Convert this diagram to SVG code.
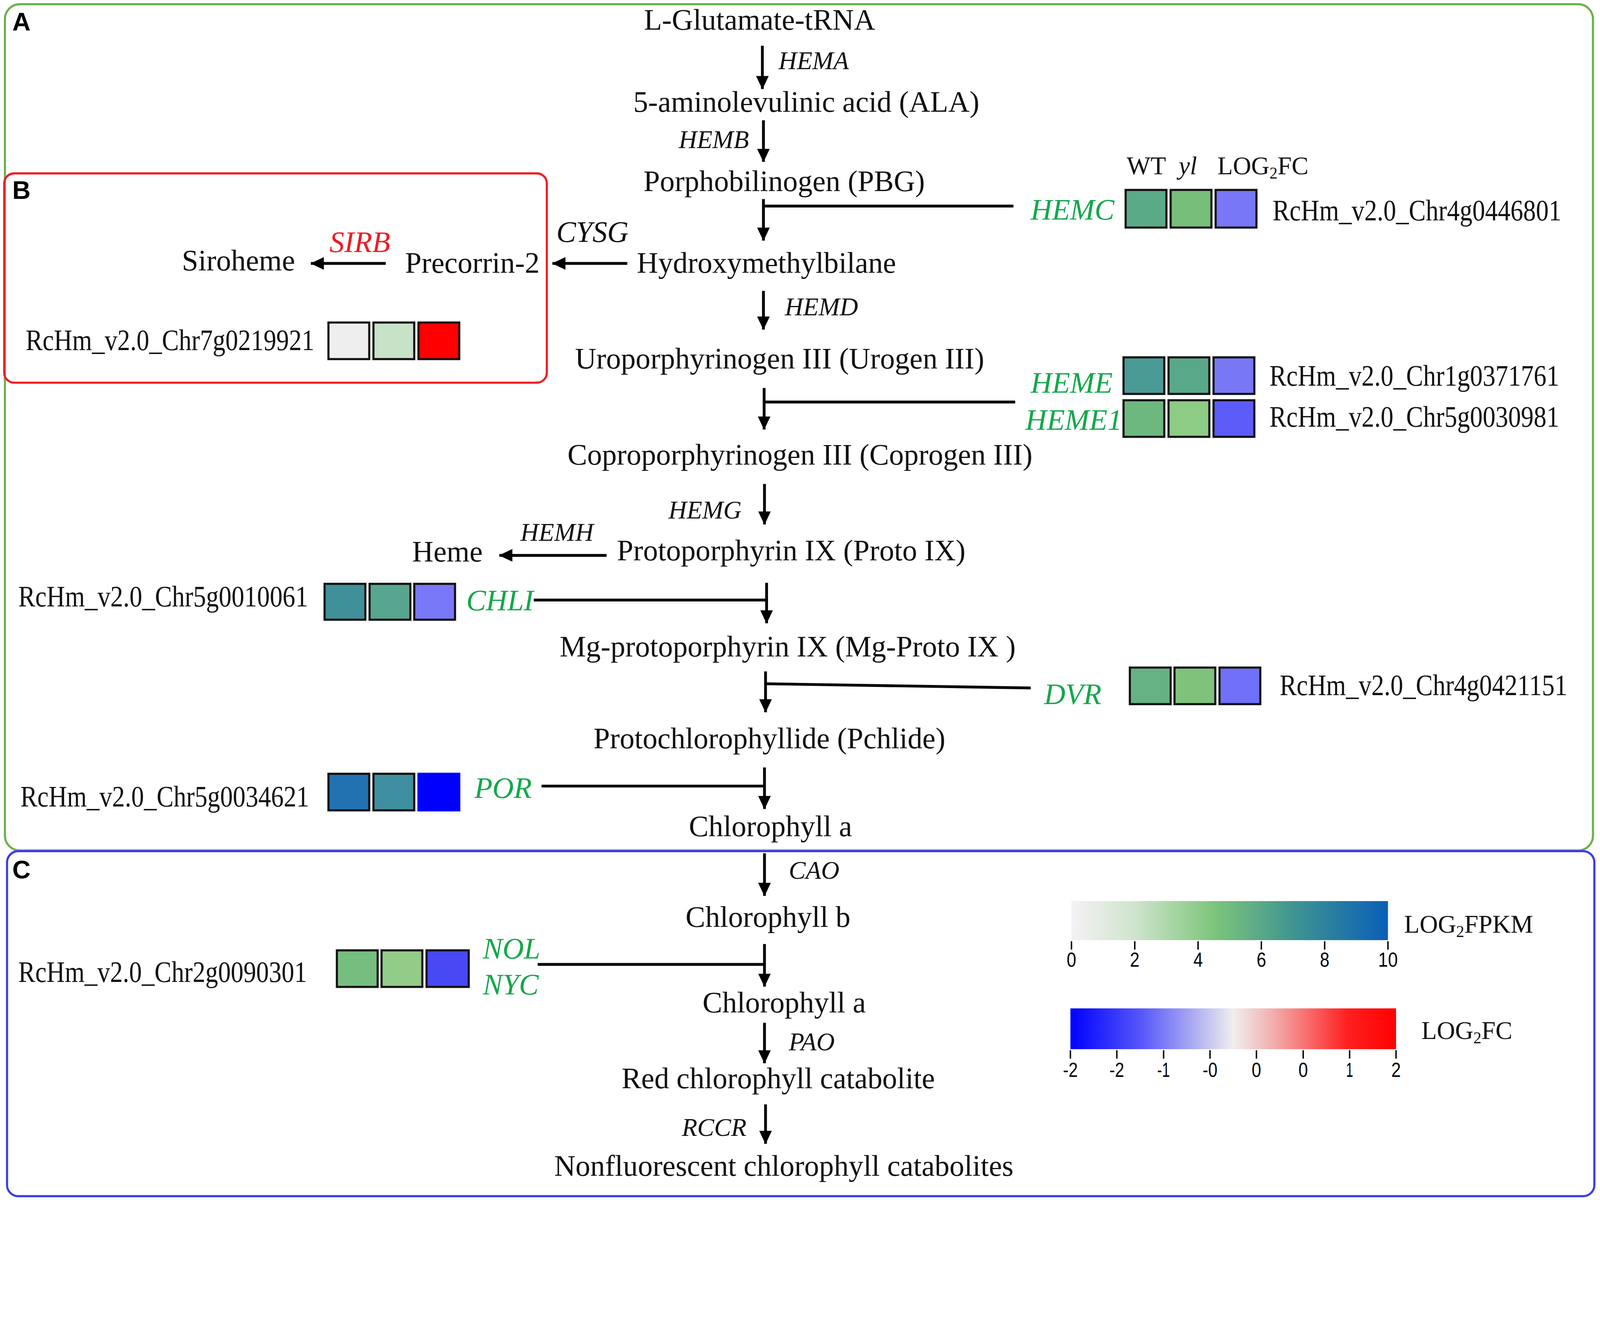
<svg xmlns="http://www.w3.org/2000/svg" width="4550" height="3414" viewBox="0 0 4550 3414">
<style>
@media (max-width: 4549px) { svg:root { width: 100vw; height: calc(100vw * 0.750330); } }
.t{font-family:"Liberation Serif","Times New Roman",serif;font-size:84px;fill:#111}
.m{text-anchor:middle}
.i{font-family:"Liberation Serif","Times New Roman",serif;font-style:italic;font-size:72px;fill:#111}
.g{font-family:"Liberation Serif","Times New Roman",serif;font-style:italic;font-size:84px;fill:#13a84a}
.id{font-family:"Liberation Serif","Times New Roman",serif;font-size:84px;fill:#111}
.h{font-family:"Liberation Serif","Times New Roman",serif;font-size:72px;fill:#111}
.p{font-family:"Liberation Sans",Arial,sans-serif;font-weight:bold;font-size:72px;fill:#000}
.k{font-family:"Liberation Sans",Arial,sans-serif;font-size:58px;fill:#000;text-anchor:middle}
.ln{stroke:#000;stroke-width:8;fill:none}
.ar{stroke:#000;stroke-width:8;fill:none;marker-end:url(#ah)}
.sq{stroke:#111;stroke-width:6}
.tk{stroke:#000;stroke-width:4}
</style>
<defs>
<marker id="ah" markerUnits="userSpaceOnUse" markerWidth="38" markerHeight="36" refX="37" refY="18" orient="auto">
<path d="M0,0 L38,18 L0,36 Z" fill="#000"/>
</marker>
<linearGradient id="gf" x1="0" y1="0" x2="1" y2="0">
<stop offset="0" stop-color="#f4f2f4"/>
<stop offset="0.2" stop-color="#cfe4cc"/>
<stop offset="0.45" stop-color="#7dc57b"/>
<stop offset="0.7" stop-color="#3f9590"/>
<stop offset="1" stop-color="#0a5fb8"/>
</linearGradient>
<linearGradient id="gc" x1="0" y1="0" x2="1" y2="0">
<stop offset="0" stop-color="#0000ff"/>
<stop offset="0.22" stop-color="#5858fa"/>
<stop offset="0.4" stop-color="#b8b8f0"/>
<stop offset="0.5" stop-color="#f0eeee"/>
<stop offset="0.62" stop-color="#f2b0b0"/>
<stop offset="0.85" stop-color="#ff2020"/>
<stop offset="1" stop-color="#ff0000"/>
</linearGradient>
</defs>
<rect width="4550" height="3414" fill="#fff"/>

<g id="frames">
<rect x="14" y="12" width="4516" height="2406" rx="42" fill="none" stroke="#6cb04c" stroke-width="6"/>
<rect x="20" y="2420" width="4514" height="981" rx="32" fill="none" stroke="#3b3bea" stroke-width="6"/>
<rect x="12" y="493" width="1543" height="595" rx="28" fill="none" stroke="#ee1c24" stroke-width="6"/>
<text class="p" x="35" y="87">A</text>
<text class="p" x="35" y="566">B</text>
<text class="p" x="35" y="2497">C</text>
</g>

<g id="connectors">
<path class="ar" d="M2168,130 V253"/>
<path class="ar" d="M2171,342 V460"/>
<path class="ar" d="M2171,566 V684"/>
<path class="ln" d="M2171,586 H2882"/>
<path class="ar" d="M1784,749 H1571"/>
<path class="ar" d="M1097,749 H884"/>
<path class="ar" d="M2171,827 V937"/>
<path class="ar" d="M2173,1103 V1221"/>
<path class="ln" d="M2173,1143 H2887"/>
<path class="ar" d="M2174,1376 V1491"/>
<path class="ar" d="M1725,1579 H1420"/>
<path class="ar" d="M2180,1657 V1772"/>
<path class="ln" d="M1518,1706 H2180"/>
<path class="ar" d="M2177,1909 V2025"/>
<path class="ln" d="M2177,1944 L2931,1956"/>
<path class="ar" d="M2174,2182 V2300"/>
<path class="ln" d="M1540,2235 H2174"/>
<path class="ar" d="M2174,2426 V2547"/>
<path class="ar" d="M2174,2684 V2805"/>
<path class="ln" d="M1529,2742 H2174"/>
<path class="ar" d="M2174,2908 V3023"/>
<path class="ar" d="M2177,3140 V3252"/>
</g>

<g id="metabolites">
<text class="t m" x="2160" y="84">L-Glutamate-tRNA</text>
<text class="t m" x="2293" y="318">5-aminolevulinic acid (ALA)</text>
<text class="t m" x="2230" y="543">Porphobilinogen (PBG)</text>
<text class="t" x="1811" y="775">Hydroxymethylbilane</text>
<text class="t" x="1152" y="775">Precorrin-2</text>
<text class="t" x="517" y="769">Siroheme</text>
<text class="t m" x="2217" y="1048">Uroporphyrinogen III (Urogen III)</text>
<text class="t m" x="2275" y="1321">Coproporphyrinogen III (Coprogen III)</text>
<text class="t m" x="2250" y="1593">Protoporphyrin IX (Proto IX)</text>
<text class="t" x="1172" y="1596">Heme</text>
<text class="t m" x="2240" y="1866">Mg-protoporphyrin IX (Mg-Proto IX )</text>
<text class="t m" x="2188" y="2127">Protochlorophyllide (Pchlide)</text>
<text class="t m" x="2191" y="2377">Chlorophyll a</text>
<text class="t m" x="2184" y="2635">Chlorophyll b</text>
<text class="t m" x="2230" y="2879">Chlorophyll a</text>
<text class="t m" x="2213" y="3094">Red chlorophyll catabolite</text>
<text class="t m" x="2229" y="3343">Nonfluorescent chlorophyll catabolites</text>
</g>

<g id="enzymes">
<text class="i" x="2214" y="197">HEMA</text>
<text class="i" x="1930" y="421">HEMB</text>
<text class="i" x="1582" y="688" style="font-size:84px">CYSG</text>
<text class="i" x="937" y="717" style="font-size:84px;fill:#ee1c24">SIRB</text>
<text class="i" x="2232" y="897">HEMD</text>
<text class="i" x="1901" y="1474">HEMG</text>
<text class="i" x="1480" y="1538">HEMH</text>
<text class="i" x="2243" y="2499">CAO</text>
<text class="i" x="2243" y="2986">PAO</text>
<text class="i" x="1939" y="3230">RCCR</text>
</g>

<g id="header">
<text class="h" x="3204" y="496">WT</text>
<text class="h" x="3352" y="496" font-style="italic">yl</text>
<text class="h" x="3462" y="496">LOG<tspan font-size="46" dy="12">2</tspan><tspan dy="-12">FC</tspan></text>
</g>

<g id="gene-HEMC">
<text class="g" x="2931" y="624">HEMC</text>
<rect class="sq" x="3201" y="540" width="116" height="107" fill="#5aaa87"/>
<rect class="sq" x="3329" y="540" width="116" height="107" fill="#76be7a"/>
<rect class="sq" x="3457" y="540" width="116" height="107" fill="#7777f7"/>
<text class="id" x="3619" y="627" textLength="821" lengthAdjust="spacingAndGlyphs">RcHm_v2.0_Chr4g0446801</text>
</g>

<g id="gene-SIRB">
<rect class="sq" x="934" y="917" width="116" height="104" fill="#eeeeee"/>
<rect class="sq" x="1062" y="917" width="116" height="104" fill="#c8e2c8"/>
<rect class="sq" x="1190" y="917" width="116" height="104" fill="#ff0000"/>
<text class="id" x="73" y="995" textLength="821" lengthAdjust="spacingAndGlyphs">RcHm_v2.0_Chr7g0219921</text>
</g>

<g id="gene-HEME">
<text class="g" x="2931" y="1117">HEME</text>
<rect class="sq" x="3195" y="1016" width="116" height="104" fill="#4a9a96"/>
<rect class="sq" x="3323" y="1016" width="116" height="104" fill="#5aa88a"/>
<rect class="sq" x="3451" y="1016" width="116" height="104" fill="#7878f5"/>
<text class="id" x="3610" y="1097" textLength="824" lengthAdjust="spacingAndGlyphs">RcHm_v2.0_Chr1g0371761</text>
</g>

<g id="gene-HEME1">
<text class="g" x="2916" y="1222">HEME1</text>
<rect class="sq" x="3195" y="1138" width="116" height="104" fill="#6cb87f"/>
<rect class="sq" x="3323" y="1138" width="116" height="104" fill="#8ccc84"/>
<rect class="sq" x="3451" y="1138" width="116" height="104" fill="#5c5cf8"/>
<text class="id" x="3610" y="1213" textLength="824" lengthAdjust="spacingAndGlyphs">RcHm_v2.0_Chr5g0030981</text>
</g>

<g id="gene-CHLI">
<text class="g" x="1326" y="1735">CHLI</text>
<rect class="sq" x="923" y="1660" width="116" height="102" fill="#3f9099"/>
<rect class="sq" x="1051" y="1660" width="116" height="102" fill="#58a68f"/>
<rect class="sq" x="1178" y="1660" width="116" height="102" fill="#7878f8"/>
<text class="id" x="52" y="1724" textLength="824" lengthAdjust="spacingAndGlyphs">RcHm_v2.0_Chr5g0010061</text>
</g>

<g id="gene-DVR">
<text class="g" x="2969" y="2002">DVR</text>
<rect class="sq" x="3213" y="1898" width="116" height="104" fill="#66b285"/>
<rect class="sq" x="3340" y="1898" width="116" height="104" fill="#80c27c"/>
<rect class="sq" x="3468" y="1898" width="116" height="104" fill="#7070f8"/>
<text class="id" x="3639" y="1976" textLength="818" lengthAdjust="spacingAndGlyphs">RcHm_v2.0_Chr4g0421151</text>
</g>

<g id="gene-POR">
<text class="g" x="1349" y="2269">POR</text>
<rect class="sq" x="934" y="2200" width="116" height="104" fill="#2272b2"/>
<rect class="sq" x="1062" y="2200" width="116" height="104" fill="#3f8fa0"/>
<rect x="1187" y="2197" width="122" height="110" fill="#0000ff"/>
<text class="id" x="58" y="2293" textLength="821" lengthAdjust="spacingAndGlyphs">RcHm_v2.0_Chr5g0034621</text>
</g>

<g id="gene-NOL">
<text class="g" x="1373" y="2725">NOL</text>
<text class="g" x="1373" y="2827">NYC</text>
<rect class="sq" x="958" y="2702" width="116" height="104" fill="#76bd80"/>
<rect class="sq" x="1085" y="2702" width="116" height="104" fill="#92cc88"/>
<rect class="sq" x="1213" y="2702" width="120" height="104" fill="#4848f4"/>
<text class="id" x="52" y="2792" textLength="821" lengthAdjust="spacingAndGlyphs">RcHm_v2.0_Chr2g0090301</text>
</g>

<g id="legend-fpkm">
<rect x="3047" y="2562" width="900" height="111" fill="url(#gf)"/>
<path class="tk" d="M3047,2676 v24 M3227,2676 v24 M3407,2676 v24 M3587,2676 v24 M3767,2676 v24 M3947,2676 v24"/>
<text class="k" x="3047" y="2749" textLength="27" lengthAdjust="spacingAndGlyphs">0</text>
<text class="k" x="3227" y="2749" textLength="27" lengthAdjust="spacingAndGlyphs">2</text>
<text class="k" x="3407" y="2749" textLength="27" lengthAdjust="spacingAndGlyphs">4</text>
<text class="k" x="3587" y="2749" textLength="27" lengthAdjust="spacingAndGlyphs">6</text>
<text class="k" x="3767" y="2749" textLength="27" lengthAdjust="spacingAndGlyphs">8</text>
<text class="k" x="3947" y="2749" textLength="56" lengthAdjust="spacingAndGlyphs">10</text>
<text class="h" x="3993" y="2652">LOG<tspan font-size="46" dy="12">2</tspan><tspan dy="-12">FPKM</tspan></text>
</g>

<g id="legend-fc">
<rect x="3044" y="2867" width="926" height="116" fill="url(#gc)"/>
<path class="tk" d="M3044,2986 v24 M3176,2986 v24 M3309,2986 v24 M3441,2986 v24 M3573,2986 v24 M3706,2986 v24 M3838,2986 v24 M3970,2986 v24"/>
<text class="k" x="3044" y="3062" textLength="42" lengthAdjust="spacingAndGlyphs">-2</text>
<text class="k" x="3176" y="3062" textLength="42" lengthAdjust="spacingAndGlyphs">-2</text>
<text class="k" x="3309" y="3062" textLength="36" lengthAdjust="spacingAndGlyphs">-1</text>
<text class="k" x="3441" y="3062" textLength="42" lengthAdjust="spacingAndGlyphs">-0</text>
<text class="k" x="3573" y="3062" textLength="27" lengthAdjust="spacingAndGlyphs">0</text>
<text class="k" x="3706" y="3062" textLength="27" lengthAdjust="spacingAndGlyphs">0</text>
<text class="k" x="3838" y="3062" textLength="20" lengthAdjust="spacingAndGlyphs">1</text>
<text class="k" x="3970" y="3062" textLength="27" lengthAdjust="spacingAndGlyphs">2</text>
<text class="h" x="4042" y="2954">LOG<tspan font-size="46" dy="12">2</tspan><tspan dy="-12">FC</tspan></text>
</g>
</svg>
